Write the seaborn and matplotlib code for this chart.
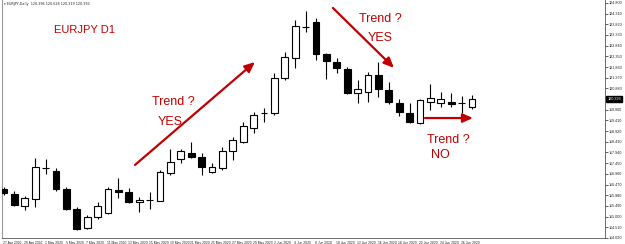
import numpy as np
import pandas as pd
import matplotlib
matplotlib.use("Agg")
import matplotlib.pyplot as plt
import matplotlib.transforms as mtransforms
import seaborn as sns

# ---------------- data ----------------
dates = ["27 Apr 2020", "28 Apr 2020", "29 Apr 2020", "30 Apr 2020", "1 May 2020",
         "4 May 2020", "5 May 2020", "6 May 2020", "7 May 2020", "8 May 2020",
         "11 May 2020", "12 May 2020", "13 May 2020", "14 May 2020", "15 May 2020",
         "18 May 2020", "19 May 2020", "20 May 2020", "21 May 2020", "22 May 2020",
         "25 May 2020", "26 May 2020", "27 May 2020", "28 May 2020", "29 May 2020",
         "1 Jun 2020", "2 Jun 2020", "3 Jun 2020", "4 Jun 2020", "5 Jun 2020",
         "8 Jun 2020", "9 Jun 2020", "10 Jun 2020", "11 Jun 2020", "12 Jun 2020",
         "15 Jun 2020", "16 Jun 2020", "17 Jun 2020", "18 Jun 2020", "19 Jun 2020",
         "22 Jun 2020", "23 Jun 2020", "24 Jun 2020", "25 Jun 2020", "26 Jun 2020",
         "29 Jun 2020"]
open_ = [116.265, 116.036, 115.485, 115.806, 117.228, 117.091, 116.265, 115.348, 114.476, 114.981,
         115.164, 116.219, 116.128, 115.669, 115.761, 115.715, 116.999, 117.641, 117.916, 117.733,
         117.045, 117.228, 118.008, 118.421, 119.063, 119.751, 119.751, 121.357, 122.274, 123.696,
         123.925, 122.458, 122.091, 121.770, 120.669, 120.715, 121.494, 120.806, 120.210, 119.751,
         119.293, 120.256, 120.210, 120.256, 120.210, 120.026]
high = [116.357, 116.173, 115.944, 117.687, 117.641, 117.228, 116.357, 115.439, 115.073, 115.669,
        116.357, 116.770, 116.311, 115.898, 116.128, 117.137, 118.100, 118.100, 118.421, 117.916,
        117.458, 118.192, 118.650, 119.338, 119.797, 119.981, 121.586, 122.549, 124.017, 124.430,
        124.109, 122.503, 122.274, 121.861, 121.265, 121.632, 122.091, 121.173, 120.393, 120.210,
        120.393, 121.081, 120.715, 120.669, 120.531, 120.577]
low = [115.990, 115.485, 115.302, 115.439, 116.953, 116.173, 115.302, 114.384, 114.430, 114.889,
       115.118, 115.852, 115.623, 115.210, 115.348, 115.700, 116.907, 117.458, 117.687, 116.907,
       116.999, 117.137, 117.595, 118.375, 118.834, 119.338, 119.660, 121.265, 121.815, 123.467,
       122.182, 121.311, 121.586, 120.623, 120.210, 120.256, 120.485, 120.164, 119.614, 119.293,
       119.247, 119.889, 120.026, 120.026, 119.751, 119.935]
close = [116.081, 115.531, 115.852, 117.274, 117.240, 116.265, 115.348, 114.430, 114.981, 115.485,
         116.265, 116.128, 115.669, 115.761, 115.775, 117.045, 117.504, 118.008, 117.733, 117.274,
         117.274, 118.008, 118.513, 119.155, 119.660, 119.740, 121.357, 122.320, 123.742, 123.710,
         122.458, 122.136, 121.815, 120.669, 120.852, 121.494, 120.852, 120.256, 119.797, 119.338,
         120.348, 120.439, 120.393, 120.164, 120.200, 120.393]

price_ticks = [114.020, 114.510, 115.000, 115.490, 115.980, 116.470, 116.960, 117.450,
               117.940, 118.430, 118.920, 119.410, 119.900, 120.880, 121.370, 121.860,
               122.350, 122.840, 123.330, 123.820, 124.310, 124.800]
header = "\u25be EURJPY,Daily  120.396 120.628 120.319 120.393"
chart_title = "EURJPY D1"
notes = ["Trend ?", "YES", "Trend ?", "YES", "Trend ?", "NO"]

df = pd.DataFrame({"date": dates, "open": open_, "high": high, "low": low, "close": close})
df["idx"] = np.arange(len(df))
df["bull"] = df["close"] >= df["open"]

# ---------------- figure ----------------
sns.set_theme(style="white")
plt.rcParams["font.family"] = ["Liberation Sans", "DejaVu Sans"]

fig = plt.figure(figsize=(6.25, 2.44), dpi=100)
ax = fig.add_axes([2 / 625, 6 / 244, 603 / 625, 238 / 244])
ax.set_facecolor("white")

red = "#c00000"
width = 0.66

# wicks
ax.vlines(df["idx"], df["low"], df["high"], color="black", lw=0.8, zorder=2)
# bodies
bottoms = np.minimum(df["open"], df["close"])
heights = np.maximum(np.abs(df["close"] - df["open"]), 0.008)
colors = np.where(df["bull"], "white", "black")
ax.bar(df["idx"], heights, bottom=bottoms, width=width, color=colors,
       edgecolor="black", linewidth=0.8, zorder=3)

ax.set_xlim(-0.19, 57.79)
ax.set_ylim(114.017, 124.935)

# x ticks every 2 bars
xt = df["idx"].values[::2]
ax.set_xticks(xt)
ax.set_xticklabels(df["date"].values[::2], fontsize=2.4, ha="left", color="#222222")
ax.tick_params(axis="x", length=2, width=0.5, pad=0.5, colors="#222222", direction="out")
for lab in ax.get_xticklabels():
    lab.set_transform(lab.get_transform() + mtransforms.ScaledTranslation(-0.5 / 72, 0, fig.dpi_scale_trans))

# y axis on right
ax.yaxis.tick_right()
ax.set_yticks(price_ticks)
ax.set_yticklabels([f"{v:.3f}" for v in price_ticks], fontsize=2.7, color="#222222")
ax.tick_params(axis="y", length=2, width=0.5, pad=0.6, colors="#222222", direction="out")

for s in ["top"]:
    ax.spines[s].set_visible(False)
ax.spines["left"].set_color("#999999")
ax.spines["left"].set_linewidth(0.8)
ax.spines["right"].set_color("#555555")
ax.spines["bottom"].set_color("#555555")
ax.spines["right"].set_linewidth(0.6)
ax.spines["bottom"].set_linewidth(0.6)
ax.grid(False)

# current price box
last = df["close"].iloc[-1]
trans = mtransforms.blended_transform_factory(ax.transAxes, ax.transData)
ax.text(1.004, last, f"{last:.3f}", transform=trans, fontsize=2.7, color="white",
        va="center", ha="left", clip_on=False,
        bbox=dict(boxstyle="square,pad=0.35", fc="black", ec="black"))

# header
ax.text(0.004, 0.993, header, transform=ax.transAxes, fontsize=2.4, va="top", ha="left",
        color="#222222", family=["DejaVu Sans"])

# annotations
ax.text(7.79, 123.56, chart_title, color=red, fontsize=8, ha="center", va="center")
ax.text(16.25, 120.26, notes[0], color=red, fontsize=9, ha="center", va="center")
ax.text(15.96, 119.34, notes[1], color=red, fontsize=9, ha="center", va="center")
ax.text(36.15, 124.06, notes[2], color=red, fontsize=9, ha="center", va="center")
ax.text(36.15, 123.19, notes[3], color=red, fontsize=9, ha="center", va="center")
ax.text(42.7, 118.51, notes[4], color=red, fontsize=9, ha="center", va="center")
ax.text(42.0, 117.83, notes[5], color=red, fontsize=9, ha="center", va="center")

arrow_kw = dict(arrowstyle="-|>,head_length=0.5,head_width=0.22", color=red, lw=1.6,
                shrinkA=0, shrinkB=0)
ax.annotate("", xy=(24.13, 122.09), xytext=(12.6, 117.37), arrowprops=arrow_kw)
ax.annotate("", xy=(37.5, 121.82), xytext=(31.63, 124.57), arrowprops=arrow_kw)
ax.annotate("", xy=(45.1, 119.52), xytext=(40.48, 119.52), arrowprops=arrow_kw)

fig.savefig("out.png", dpi=100, facecolor="white")
